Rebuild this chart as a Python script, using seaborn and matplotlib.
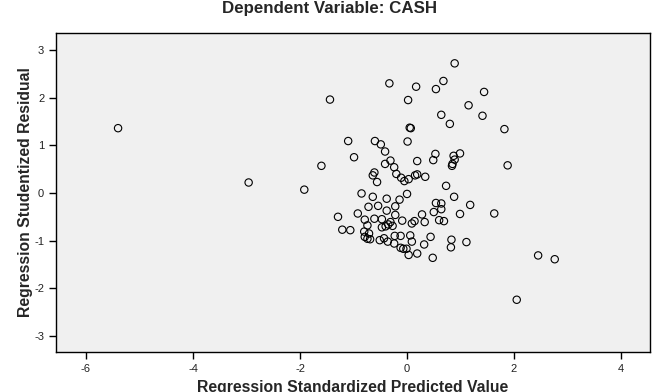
import numpy as np
import pandas as pd
import seaborn as sns
import matplotlib
matplotlib.use("Agg")
import matplotlib.pyplot as plt

# values
pred = [-5.40, -2.96, -1.92, -1.44, -1.60, -0.33, 0.17, 0.02, 0.54, 0.68,
        0.89, 1.44, 1.15, 1.41, 0.64, 0.80, 1.82, 0.05, 0.07, -1.10,
        -0.60, -0.49, 0.01, -0.41, -0.99, 0.53, 0.99, 0.87, 0.49, 0.19,
        -0.31, -0.41, -0.24, 0.89, 0.85, 0.84, 1.88, -0.61, -0.64, -0.56,
        -0.20, -0.11, -0.05, 0.03, 0.15, 0.19, 0.34, 0.73, -0.85, -0.64,
        -0.38, -0.14, 0.00, 0.88, 1.18, 1.63, 0.99, 0.54, 0.64, 0.50,
        0.64, 0.60, 0.69, 0.28, 0.33, 0.14, 0.09, -0.09, -0.22, -0.22,
        -0.38, -0.54, -0.72, -0.92, -1.29, -0.79, -0.61, -0.47, -0.31, -0.35,
        -0.40, -0.47, -0.27, -0.74, -1.21, -1.06, -0.80, -0.71, -0.79, -0.74,
        -0.69, -0.51, -0.43, -0.36, -0.23, -0.12, 0.06, 0.09, -0.24, -0.12,
        -0.07, -0.01, 0.03, 0.19, 0.32, 0.44, 0.48, 0.83, 0.82, 1.11,
        2.45, 2.76, 2.05]
resid = [1.36, 0.22, 0.07, 1.96, 0.57, 2.30, 2.23, 1.95, 2.18, 2.35,
         2.72, 2.12, 1.84, 1.62, 1.64, 1.45, 1.34, 1.37, 1.36, 1.09,
         1.09, 1.02, 1.08, 0.87, 0.75, 0.82, 0.83, 0.78, 0.69, 0.67,
         0.68, 0.61, 0.54, 0.70, 0.61, 0.57, 0.58, 0.43, 0.37, 0.23,
         0.40, 0.32, 0.25, 0.29, 0.37, 0.39, 0.34, 0.15, -0.01, -0.08,
         -0.12, -0.14, -0.02, -0.08, -0.25, -0.43, -0.44, -0.21, -0.22, -0.40,
         -0.34, -0.57, -0.59, -0.45, -0.61, -0.59, -0.64, -0.58, -0.28, -0.46,
         -0.37, -0.27, -0.29, -0.43, -0.50, -0.56, -0.54, -0.55, -0.61, -0.66,
         -0.70, -0.72, -0.69, -0.68, -0.77, -0.78, -0.81, -0.85, -0.92, -0.96,
         -0.97, -0.99, -0.95, -1.02, -0.90, -0.90, -0.89, -1.02, -1.06, -1.15,
         -1.17, -1.17, -1.30, -1.27, -1.08, -0.92, -1.36, -0.98, -1.14, -1.03,
         -1.31, -1.39, -2.24]
x_ticks = [-6, -4, -2, 0, 2, 4]
y_ticks = [-3, -2, -1, 0, 1, 2, 3]

df = pd.DataFrame({"pred": pred, "resid": resid})

sns.set_theme(style="ticks")
plt.rcParams["font.family"] = ["Liberation Sans", "DejaVu Sans"]
plt.rcParams["axes.unicode_minus"] = False

fig = plt.figure(figsize=(6.58, 3.92), dpi=100)
ax = fig.add_axes([0.0851, 0.1028, 0.9027, 0.8122])
ax.set_facecolor("#f0f0f0")

sns.scatterplot(data=df, x="pred", y="resid", ax=ax, marker="o", s=28,
                facecolor="none", edgecolor="black", linewidth=0.8)

ax.set_xlim(-6.56, 4.54)
ax.set_ylim(-3.33, 3.35)
ax.set_xticks(x_ticks)
ax.set_yticks(y_ticks)
ax.set_xticklabels([str(t) for t in x_ticks])
ax.set_yticklabels([str(t) for t in y_ticks])
ax.tick_params(axis="both", direction="out", length=5, width=1,
               labelsize=8, color="black", labelcolor="#222222")
for sp in ax.spines.values():
    sp.set_visible(True)
    sp.set_color("black")
    sp.set_linewidth(1)

ax.set_xlabel("Regression Standardized Predicted Value", fontsize=11.3,
              fontweight="bold", labelpad=5)
ax.set_ylabel("Regression Studentized Residual", fontsize=11.3,
              fontweight="bold", labelpad=0.5)
fig.text(0.5, 1 - 8 / 392, "Dependent Variable: CASH", ha="center",
         va="center", fontsize=12.2, fontweight="bold")

fig.savefig("out.png", dpi=100)
